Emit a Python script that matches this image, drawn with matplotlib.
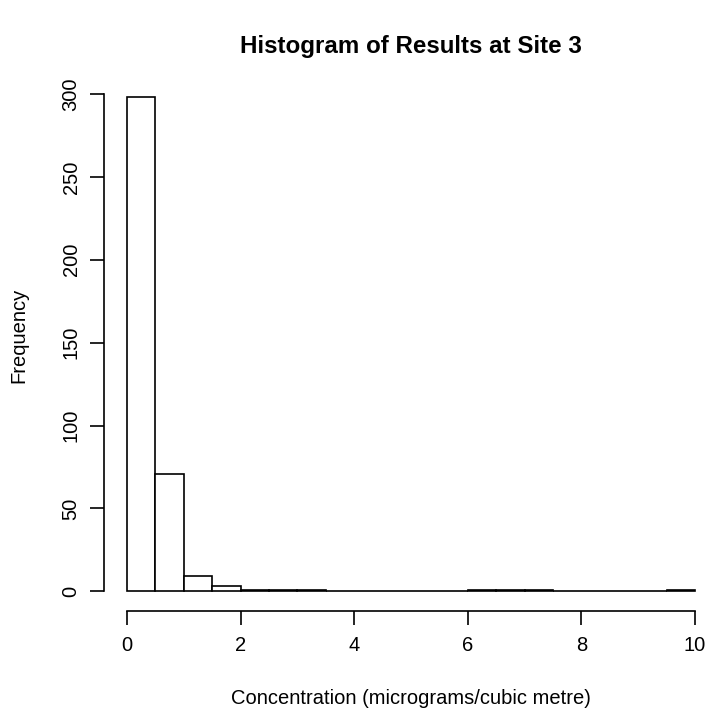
import numpy as np
import matplotlib
matplotlib.use("Agg")
import matplotlib.pyplot as plt

plt.rcParams["font.family"] = ["Liberation Sans", "DejaVu Sans"]

# histogram bins (width 0.5) and counts
bin_edges = np.arange(0, 10.5, 0.5)
counts = [298, 71, 9, 3, 1, 1, 1, 0, 0, 0, 0, 0, 1, 1, 1, 0, 0, 0, 0, 1]
x_ticks = [0, 2, 4, 6, 8, 10]
y_ticks = [0, 50, 100, 150, 200, 250, 300]

W, H = 707, 709
fig = plt.figure(figsize=(W / 100, H / 100), dpi=100)

# plot region in pixels (R style, 4% padding on each side)
left, right, top, bottom = 104.3, 717.7, 77.6, 611.0
ax = fig.add_axes([left / W, 1 - bottom / H, (right - left) / W, (bottom - top) / H])

ax.bar(bin_edges[:-1], counts, width=0.5, align="edge",
       facecolor="white", edgecolor="black", linewidth=1.2)

ax.set_xlim(-0.4, 10.4)
ax.set_ylim(-11.92, 309.92)

for s in ["top", "right"]:
    ax.spines[s].set_visible(False)
ax.spines["left"].set_bounds(0, 300)
ax.spines["bottom"].set_bounds(0, 10)
for s in ["left", "bottom"]:
    ax.spines[s].set_linewidth(1.2)

ax.set_xticks(x_ticks)
ax.set_yticks(y_ticks)
ax.set_yticklabels([str(v) for v in y_ticks], rotation=90, va="center")
ax.tick_params(direction="out", length=10, width=1.2, labelsize=14.5)
ax.tick_params(axis="x", pad=8)
ax.tick_params(axis="y", pad=7)

fig.text(411 / W, 1 - 47 / H, "Histogram of Results at Site 3",
         ha="center", va="center", fontsize=17.4, fontweight="bold")
fig.text(411 / W, 1 - 699 / H, "Concentration (micrograms/cubic metre)",
         ha="center", va="center", fontsize=14.5)
fig.text(19 / W, 1 - 335 / H, "Frequency",
         ha="center", va="center", rotation=90, fontsize=14.5)

fig.savefig("out.png", dpi=100)
